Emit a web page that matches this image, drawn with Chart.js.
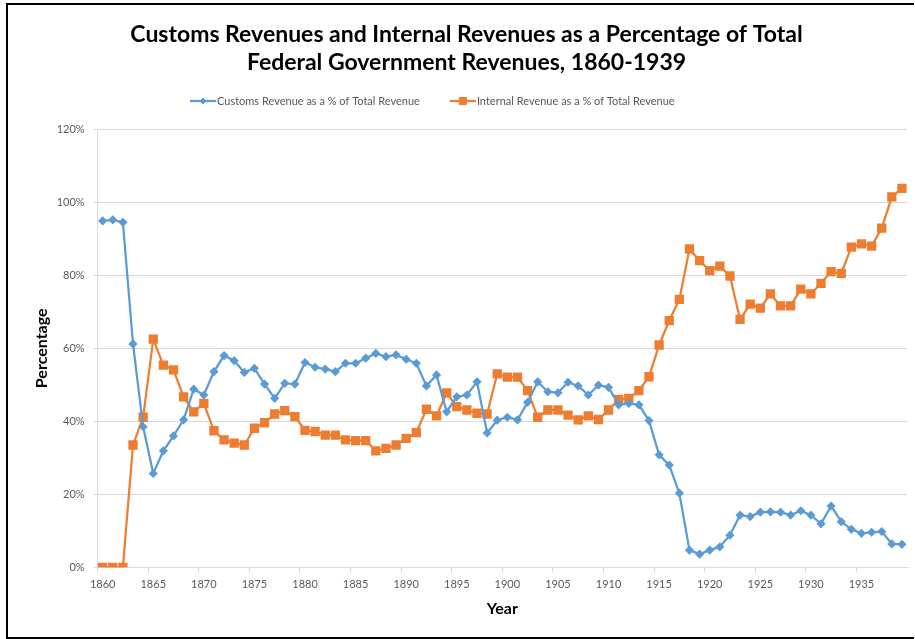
<!DOCTYPE html>
<html><head><meta charset="utf-8">
<script src="https://cdn.jsdelivr.net/npm/chart.js@4/dist/chart.umd.min.js"></script>
<style>html,body{margin:0;padding:0;background:#fff;}#wrap{width:915px;height:639px;position:relative;}</style>
</head><body><div id="wrap"><canvas id="c" width="915" height="639"></canvas></div>
<script>
const years = [1860,1861,1862,1863,1864,1865,1866,1867,1868,1869,
1870,1871,1872,1873,1874,1875,1876,1877,1878,1879,
1880,1881,1882,1883,1884,1885,1886,1887,1888,1889,
1890,1891,1892,1893,1894,1895,1896,1897,1898,1899,
1900,1901,1902,1903,1904,1905,1906,1907,1908,1909,
1910,1911,1912,1913,1914,1915,1916,1917,1918,1919,
1920,1921,1922,1923,1924,1925,1926,1927,1928,1929,
1930,1931,1932,1933,1934,1935,1936,1937,1938,1939];
const customsPct = [94.9,95.2,94.5,61.2,38.5,25.7,31.9,36.0,40.4,48.8,
47.2,53.6,58.0,56.6,53.4,54.5,50.2,46.3,50.4,50.2,
56.1,54.8,54.3,53.6,55.9,55.9,57.3,58.6,57.7,58.2,
57.0,55.9,49.7,52.7,42.6,46.7,47.2,50.8,36.8,40.3,
41.1,40.4,45.2,50.8,48.1,47.8,50.7,49.7,47.2,49.9,
49.3,44.5,44.9,44.5,40.2,30.8,28.0,20.3,4.7,3.6,
4.7,5.6,8.8,14.3,13.9,15.1,15.2,15.1,14.3,15.5,
14.3,11.9,16.8,12.5,10.4,9.3,9.6,9.8,6.4,6.3];
const internalPct = [0,0,0,33.5,41.1,62.5,55.4,54.1,46.7,42.6,
44.9,37.4,34.9,34.0,33.5,38.1,39.6,42.0,42.9,41.3,
37.5,37.2,36.2,36.2,34.9,34.7,34.7,31.9,32.6,33.5,
35.3,36.9,43.3,41.5,47.8,44.0,43.1,42.2,42.0,53.0,
52.1,52.1,48.4,41.1,43.1,43.1,41.7,40.4,41.5,40.5,
43.1,46.0,46.3,48.4,52.2,60.9,67.6,73.4,87.2,84.0,
81.3,82.5,79.8,67.9,72.1,71.0,74.9,71.6,71.6,76.2,
74.9,77.8,81.0,80.5,87.7,88.6,88.0,92.9,101.5,103.8];
const xTickLabels = ['1860','1865','1870','1875','1880','1885','1890','1895','1900','1905','1910','1915','1920','1925','1930','1935'];
const yTicks = [0,20,40,60,80,100,120];
const titleLines = ['Customs Revenues and Internal Revenues as a Percentage of Total','Federal Government Revenues, 1860-1939'];
const seriesNames = ['Customs Revenue as a % of Total Revenue','Internal Revenue as a % of Total Revenue'];

const BLUE = '#5B9BD5', ORANGE = '#ED7D31';
Chart.defaults.font.family = 'Lato';

function drawMarker(ctx, style, r, x, y) {
  ctx.beginPath();
  if (style === 'rect') {
    const s = Math.SQRT1_2 * r;
    ctx.rect(x - s, y - s, 2 * s, 2 * s);
  } else {
    ctx.moveTo(x, y - r); ctx.lineTo(x + r, y); ctx.lineTo(x, y + r); ctx.lineTo(x - r, y); ctx.closePath();
  }
  ctx.fill(); ctx.stroke();
}

const framePlugin = {
  id: 'frame',
  beforeDraw(chart) {
    const ctx = chart.ctx;
    ctx.save();
    ctx.fillStyle = '#fff';
    ctx.fillRect(0, 0, chart.width, chart.height);
    ctx.fillStyle = '#000';
    ctx.fillRect(6, 3, 908, 2);
    ctx.fillRect(6, 3, 2, 636);
    ctx.fillRect(6, 637, 908, 2);
    ctx.restore();
  }
};

const legendPlugin = {
  id: 'customLegend',
  afterDraw(chart) {
    const ctx = chart.ctx;
    ctx.save();
    ctx.font = '11px Lato';
    ctx.textBaseline = 'middle';
    ctx.textAlign = 'left';
    let x = 190; const y = 101;
    chart.data.datasets.forEach((ds) => {
      ctx.strokeStyle = ds.borderColor; ctx.lineWidth = ds.borderWidth;
      ctx.beginPath(); ctx.moveTo(x, y); ctx.lineTo(x + 26, y); ctx.stroke();
      ctx.fillStyle = ds.pointBackgroundColor; ctx.strokeStyle = ds.pointBorderColor; ctx.lineWidth = 1;
      drawMarker(ctx, ds.pointStyle, ds.pointRadius, x + 13, y);
      ctx.fillStyle = '#595959';
      ctx.fillText(ds.label, x + 27, y);
      x += 27 + ctx.measureText(ds.label).width + 30;
    });
    ctx.restore();
  }
};

new Chart(document.getElementById('c'), {
  type: 'line',
  data: {
    labels: years.map(String),
    datasets: [
      { label: seriesNames[0], data: customsPct, borderColor: BLUE, backgroundColor: BLUE,
        pointBackgroundColor: BLUE, pointBorderColor: BLUE, pointStyle: 'rectRot', pointRadius: 3,
        borderWidth: 2.25, tension: 0 },
      { label: seriesNames[1], data: internalPct, borderColor: ORANGE, backgroundColor: ORANGE,
        pointBackgroundColor: ORANGE, pointBorderColor: ORANGE, pointStyle: 'rect', pointRadius: 5,
        borderWidth: 2.25, tension: 0 }
    ]
  },
  options: {
    responsive: false,
    animation: false,
    layout: { padding: { left: 26, right: 8, top: 0, bottom: 4 } },
    plugins: {
      legend: { display: false },
      tooltip: { enabled: false },
      title: {
        display: true, text: titleLines, color: '#000',
        font: { family: 'Lato', size: 23, weight: 'bold', lineHeight: 1.18 },
        padding: { top: 21.4, bottom: 53.6 }
      }
    },
    scales: {
      x: {
        type: 'category',
        offset: true,
        afterFit(s) { s.height = 67.7; },
        grid: {
          offset: true, drawOnChartArea: false, drawTicks: true, tickLength: 5,
          color: (c) => (c.index % 5 === 0 ? '#d9d9d9' : 'rgba(0,0,0,0)')
        },
        border: { display: true, color: '#d9d9d9', width: 1 },
        ticks: {
          autoSkip: false, maxRotation: 0, minRotation: 0, padding: 6,
          color: '#595959', font: { size: 11 },
          callback: (v, i) => (xTickLabels.includes(String(years[i])) ? String(years[i]) : '')
        },
        title: { display: true, text: 'Year', color: '#000', font: { size: 16, weight: 'bold' }, padding: { top: 0, bottom: 16.5 } }
      },
      y: {
        min: 0, max: 120,
        afterFit(s) { s.width = 71.6; },
        afterBuildTicks(s) { s.ticks = yTicks.map(v => ({ value: v })); },
        grid: { color: '#d9d9d9', drawTicks: true, tickLength: 4 },
        border: { display: true, color: '#d9d9d9', width: 1 },
        ticks: { stepSize: 20, padding: 9, color: '#595959', font: { size: 11 }, callback: (v) => v + '%' },
        title: { display: true, text: 'Percentage', color: '#000', font: { size: 16, weight: 'bold' }, padding: { top: 6.5, bottom: 0 } }
      }
    }
  },
  plugins: [framePlugin, legendPlugin]
});
</script></body></html>
